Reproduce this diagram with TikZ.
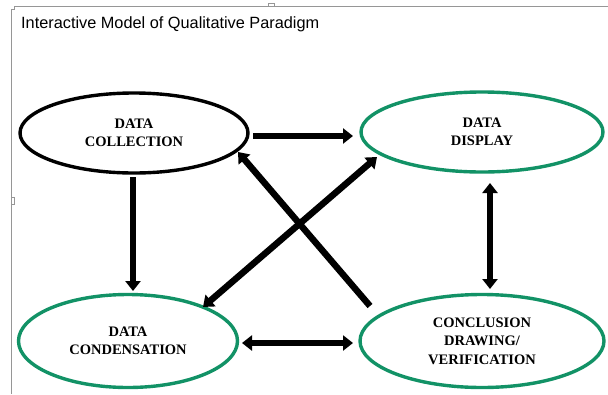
\documentclass[tikz,border=0pt]{standalone}
\usepackage{fontspec}
\setmainfont{Liberation Serif}
\newfontfamily\titlefont{Liberation Sans}
\usetikzlibrary{shapes.geometric,arrows.meta,calc}
\definecolor{ovgreen}{RGB}{18,146,102}
\definecolor{framegray}{RGB}{150,150,150}
\tikzset{
  oval/.style={ellipse, draw=ovgreen, line width=3.4pt, inner sep=0pt, align=center,
    font=\bfseries\fontsize{14.5}{18.5}\selectfont},
  arr/.style={line width=6.5pt, -{Triangle[length=10pt,width=15pt]}},
  darr/.style={line width=6.5pt, {Triangle[length=10pt,width=15pt]}-{Triangle[length=10pt,width=15pt]}},
  frame/.style={draw=framegray, line width=0.9pt}
}
\begin{document}
\begin{tikzpicture}[x=1pt,y=-1pt]
\useasboundingbox (0,0) rectangle (608,394);
% frame
\draw[frame] (14,6) -- (608,6);
\draw[frame] (14,6) -- (14,9) -- (11,9) -- (11,394);
\draw[frame] (11,197) -- (14,197) -- (14,204) -- (11,204);
\draw[frame] (268,6) -- (268,3) -- (274,3) -- (274,6);
% title
\node[anchor=base west, inner sep=0pt, font=\titlefont\fontsize{16.3}{19}\selectfont] (title) at (21,28) {Interactive Model of Qualitative Paradigm};
% ovals
\node[oval, draw=black, minimum width=228pt, minimum height=80pt] (coll) at (134,133) {DATA\\COLLECTION};
\node[oval, minimum width=242pt, minimum height=80pt] (disp) at (482,132) {DATA\\DISPLAY};
\node[oval, minimum width=219pt, minimum height=93pt] (cond) at (128,341) {DATA\\CONDENSATION};
\node[oval, minimum width=244pt, minimum height=93pt] (conc) at (482,341) {CONCLUSION\\DRAWING/\\VERIFICATION};
% arrows
\draw[arr] ($(coll.center)+(119,3)$) -- ($(disp.center)+(-129,4)$);
\draw[arr] ($(coll.center)+(-1,44)$) -- ($(cond.center)+(5,-50)$);
\draw[darr] ($(disp.center)+(8,51)$) -- ($(conc.center)+(8,-52)$);
\draw[darr] ($(cond.center)+(114,2)$) -- ($(conc.center)+(-129,2)$);
\draw[arr] ($(conc.center)+(-112,-35)$) -- ($(coll.center)+(104,19)$);
\draw[darr] ($(cond.center)+(75,-34)$) -- ($(disp.center)+(-105,25)$);
\end{tikzpicture}
\end{document}
